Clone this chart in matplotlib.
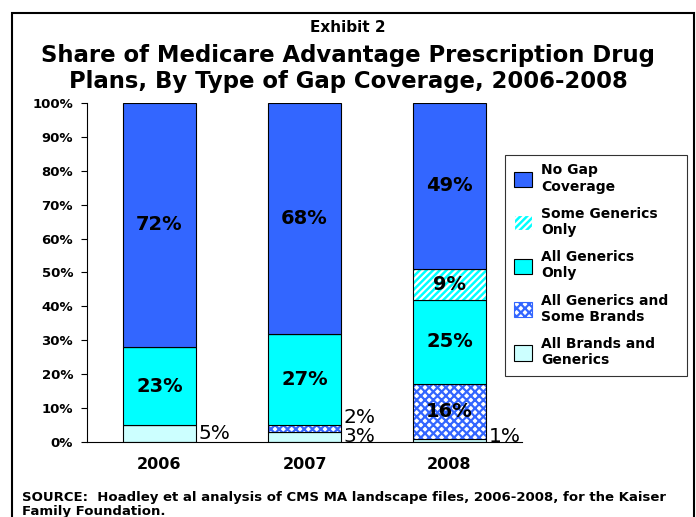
"""Exhibit 2: share of MA-PD plans by type of gap coverage, stacked bars."""
import numpy as np
import matplotlib.pyplot as plt
from matplotlib.patches import Patch, Rectangle

## DATA
## ====
years = ['2006', '2007', '2008']
all_brands = [5, 3, 1]
generics_some_brands = [0, 2, 16]
all_generics = [23, 27, 25]
some_generics = [0, 0, 9]
no_gap = [72, 68, 49]

series_names = ['All Brands and\nGenerics', 'All Generics and\nSome Brands',
                'All Generics\nOnly', 'Some Generics\nOnly', 'No Gap\nCoverage']
yticks = [0, 10, 20, 30, 40, 50, 60, 70, 80, 90, 100]

BLUE = '#3366FF'
CYAN = '#00FFFF'
LIGHT = '#CCFFFF'

plt.rcParams['font.family'] = 'DejaVu Sans'
plt.rcParams['hatch.linewidth'] = 1.6

fig = plt.figure(figsize=(6.96, 5.17), dpi=100)
ax = fig.add_axes([0.125, 0.145, 0.625, 0.656])

x = np.arange(len(years))
width = 0.5
series = [all_brands, generics_some_brands, all_generics, some_generics, no_gap]
bottom = np.zeros(len(years))

for k, vals in enumerate(series):
    vals = np.array(vals, dtype=float)
    if k == 1:
        # checker-like pattern: blue hatch on white
        ax.bar(x, vals, width, bottom=bottom, color='white', edgecolor=BLUE,
               hatch='xxxx', linewidth=0)
        ax.bar(x, vals, width, bottom=bottom, color='none', edgecolor='black', linewidth=0.8)
    elif k == 3:
        ax.bar(x, vals, width, bottom=bottom, color=CYAN, edgecolor='white',
               hatch='/////', linewidth=0)
        ax.bar(x, vals, width, bottom=bottom, color='none', edgecolor='black', linewidth=0.8)
    else:
        col = [LIGHT, None, CYAN, None, BLUE][k]
        ax.bar(x, vals, width, bottom=bottom, color=col, edgecolor='black', linewidth=0.8)

    for i, v in enumerate(vals):
        if v == 0:
            continue
        yc = bottom[i] + v / 2
        if v >= 9:
            ax.text(x[i], yc, f'{v:.0f}%', ha='center', va='center',
                    fontsize=14, fontweight='bold', color='black')
        else:
            # small slices are labelled beside the bar
            dy = 0
            if k == 1:
                dy = 8
            elif i == 2:
                dy = 3
            ax.annotate(f'{v:.0f}%', xy=(x[i] + width / 2, yc), xytext=(2, dy),
                        textcoords='offset points', ha='left', va='center',
                        fontsize=14.5, color='black')
    bottom += vals

ax.set_xlim(-0.5, 2.5)
ax.set_ylim(0, 100)
ax.set_yticks(yticks)
ax.set_yticklabels([f'{t}%' for t in yticks], fontsize=9.5, fontweight='bold')
ax.set_xticks(x)
ax.set_xticklabels(years, fontsize=11.5, fontweight='bold')
ax.tick_params(axis='x', length=0, pad=11)
ax.tick_params(axis='y', length=4, direction='out', pad=6)
for s in ['top', 'right']:
    ax.spines[s].set_visible(False)
ax.spines['left'].set_linewidth(0.8)
ax.spines['bottom'].set_linewidth(0.8)

# legend, top entry first
handles = [
    Patch(facecolor=BLUE, edgecolor='black', linewidth=0.8),
    Patch(facecolor=CYAN, edgecolor='white', hatch='/////', linewidth=0.8),
    Patch(facecolor=CYAN, edgecolor='black', linewidth=0.8),
    Patch(facecolor='white', edgecolor=BLUE, hatch='xxxx', linewidth=0.8),
    Patch(facecolor=LIGHT, edgecolor='black', linewidth=0.8),
]
leg = fig.legend(handles, series_names[::-1], loc='upper left',
                 bbox_to_anchor=(0.726, 0.27, 0.261, 0.43), mode='expand',
                 frameon=True, fancybox=False,
                 edgecolor='black', prop={'size': 10, 'weight': 'bold'},
                 handlelength=1.3, handleheight=1.3, labelspacing=0.95,
                 handletextpad=0.7, borderpad=0.6, borderaxespad=0)
leg.get_frame().set_linewidth(0.8)

fig.text(0.5, 0.946, 'Exhibit 2', ha='center', va='center', fontsize=11, fontweight='bold')
fig.text(0.5, 0.867, 'Share of Medicare Advantage Prescription Drug\nPlans, By Type of Gap Coverage, 2006-2008',
         ha='center', va='center', fontsize=16.4, fontweight='bold', linespacing=1.18)
fig.text(0.032, 0.024, 'SOURCE:  Hoadley et al analysis of CMS MA landscape files, 2006-2008, for the Kaiser\nFamily Foundation.',
         ha='left', va='center', fontsize=9.5, fontweight='bold', linespacing=1.14)

fig.patches.append(Rectangle((0.017, -0.02), 0.98, 0.995, transform=fig.transFigure,
                             fill=False, edgecolor='black', linewidth=1.5))

fig.savefig('out.png', dpi=100)
